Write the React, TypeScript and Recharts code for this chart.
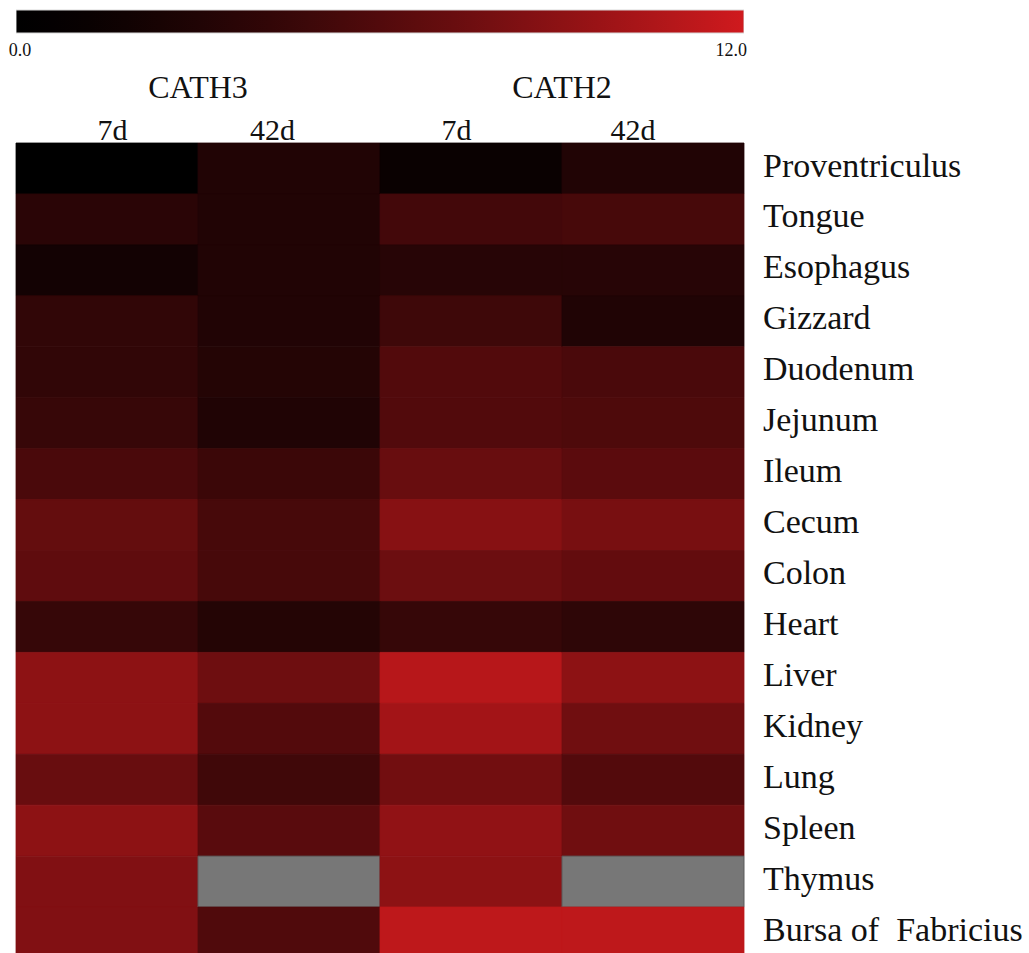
import React from "react";
import { BarChart, Bar, XAxis, YAxis, Cell } from "recharts";

const organs = [
  "Proventriculus", "Tongue", "Esophagus", "Gizzard", "Duodenum", "Jejunum", "Ileum", "Cecum",
  "Colon", "Heart", "Liver", "Kidney", "Lung", "Spleen", "Thymus", "Bursa of\u00a0 Fabricius",
];
const cath3_7d: (number | null)[] = [0.0, 3.7, 2.0, 4.1, 4.1, 4.5, 5.6, 7.0, 6.7, 4.4, 9.0, 9.0, 7.2, 9.0, 8.4, 8.4];
const cath3_42d: (number | null)[] = [3.1, 3.1, 3.1, 3.1, 3.3, 3.0, 4.7, 5.4, 5.4, 3.3, 7.5, 6.1, 5.0, 6.4, null, 5.9];
const cath2_7d: (number | null)[] = [1.3, 5.2, 3.5, 4.9, 6.0, 6.0, 7.2, 8.7, 7.4, 4.4, 10.9, 10.0, 7.7, 9.2, 9.0, 11.2];
const cath2_42d: (number | null)[] = [3.1, 5.4, 3.5, 3.0, 5.6, 5.8, 6.5, 8.0, 6.9, 3.9, 9.0, 7.6, 6.1, 7.6, null, 11.2];

const seriesKeys = ["c3d7", "c3d42", "c2d7", "c2d42"];
const seriesValues = [cath3_7d, cath3_42d, cath2_7d, cath2_42d];

const dayTickPos = [0.53, 1.41, 2.42, 3.39];
const dayTickLabels = ["7d", "42d", "7d", "42d"];
const groupTickPos = [1, 3];
const groupTickLabels = ["CATH3", "CATH2"];

const scaleMin = 0;
const scaleMax = 12;
const scaleTicks = [0, 12];

const MAX_COLOR = [208, 26, 30];
const GAMMA = 1.35;
const NA_COLOR = "#777777";
const FONT = "'Liberation Serif', 'Times New Roman', serif";

function colorAtFraction(t: number): string {
  const f = Math.pow(Math.max(0, Math.min(1, t)), GAMMA);
  const c = MAX_COLOR.map((m) => Math.round(m * f));
  return `rgb(${c[0]},${c[1]},${c[2]})`;
}

function colorFor(v: number | null): string {
  if (v === null || v === undefined) return NA_COLOR;
  return colorAtFraction((v - scaleMin) / (scaleMax - scaleMin));
}

const gradientStops = Array.from({ length: 21 }, (_, i) => i / 20);

const rows = organs.map((organ, i) => {
  const r: any = { organ };
  seriesKeys.forEach((k, j) => {
    r[k] = seriesValues[j][i];
  });
  return r;
});

const scaleData = [{ name: "scale", max: scaleMax }];
const headerData = [{ name: "header", v: 0 }];

const ScaleTick = (props: any) => {
  const { x, y, payload } = props;
  const isMin = payload.value === scaleMin;
  return (
    <text
      x={isMin ? x + 4 : x + 3}
      y={y}
      dy={14}
      textAnchor={isMin ? "middle" : "end"}
      fontFamily={FONT}
      fontSize={18}
      fill="#111"
    >
      {Number(payload.value).toFixed(1)}
    </text>
  );
};

export default function App() {
  return (
    <div
      style={{
        position: "absolute",
        left: 0,
        top: 0,
        width: 1029,
        height: 953,
        overflow: "hidden",
        background: "#fff",
      }}
    >
      <div style={{ position: "absolute", left: 0, top: 0 }}>
        <BarChart
          width={1029}
          height={70}
          layout="vertical"
          data={scaleData}
          margin={{ top: 10, left: 16, right: 285, bottom: 0 }}
          barCategoryGap={0}
        >
          <defs>
            <linearGradient id="cbGrad" x1="0" y1="0" x2="1" y2="0">
              {gradientStops.map((t) => (
                <stop key={t} offset={`${t * 100}%`} stopColor={colorAtFraction(t)} />
              ))}
            </linearGradient>
          </defs>
          <XAxis
            type="number"
            domain={[scaleMin, scaleMax]}
            ticks={scaleTicks}
            axisLine={false}
            tickLine={false}
            tickSize={0}
            tickMargin={9}
            height={37}
            tick={<ScaleTick />}
            allowDataOverflow
          />
          <YAxis type="category" dataKey="name" hide />
          <Bar dataKey="max" fill="url(#cbGrad)" stroke="#d8d8d8" strokeWidth={1} isAnimationActive={false} />
        </BarChart>
      </div>
      <div style={{ position: "absolute", left: 0, top: 0 }}>
        <BarChart
          width={1029}
          height={110}
          layout="vertical"
          data={headerData}
          margin={{ top: 53, left: 16, right: 285, bottom: 0 }}
        >
          <XAxis
            type="number"
            orientation="top"
            domain={[0, 4]}
            ticks={groupTickPos}
            tickFormatter={(v: number) => groupTickLabels[groupTickPos.indexOf(v)] ?? ""}
            axisLine={false}
            tickLine={false}
            tickSize={0}
            tickMargin={5}
            height={50}
            interval={0}
            allowDataOverflow
            tick={{ fontFamily: FONT, fontSize: 32, fill: "#111" }}
          />
          <YAxis type="category" dataKey="name" hide />
          <Bar dataKey="v" fill="none" isAnimationActive={false} />
        </BarChart>
      </div>
      <div style={{ position: "absolute", left: 0, top: 0 }}>
        <BarChart
          width={1029}
          height={960}
          layout="vertical"
          data={rows}
          margin={{ top: 103, left: 16, right: 15, bottom: 2 }}
          barCategoryGap={0}
          barGap={0}
        >
          <XAxis
            type="number"
            orientation="top"
            domain={[0, 4]}
            ticks={dayTickPos}
            tickFormatter={(v: number) => dayTickLabels[dayTickPos.indexOf(v)] ?? ""}
            axisLine={false}
            tickLine={false}
            tickSize={0}
            tickMargin={3}
            height={40}
            interval={0}
            tick={{ fontFamily: FONT, fontSize: 30, fill: "#111" }}
          />
          <YAxis
            type="category"
            dataKey="organ"
            orientation="right"
            width={270}
            axisLine={false}
            tickLine={false}
            tickSize={0}
            tickMargin={19}
            interval={0}
            tick={{ fontFamily: FONT, fontSize: 34, fill: "#111", textAnchor: "start", dy: -4 }}
          />
          {seriesKeys.map((k, j) => (
            <Bar
              key={k}
              stackId="heat"
              dataKey={(d: any) => (d ? 1 : 0)}
              name={k}
              isAnimationActive={false}
            >
              {rows.map((r, i) => {
                const v = seriesValues[j][i];
                const fill = colorFor(v);
                return (
                  <Cell
                    key={`${k}-${i}`}
                    fill={fill}
                    stroke={v === null ? "#5a5a5a" : fill}
                    strokeWidth={v === null ? 1 : 0.8}
                  />
                );
              })}
            </Bar>
          ))}
        </BarChart>
      </div>
    </div>
  );
}
